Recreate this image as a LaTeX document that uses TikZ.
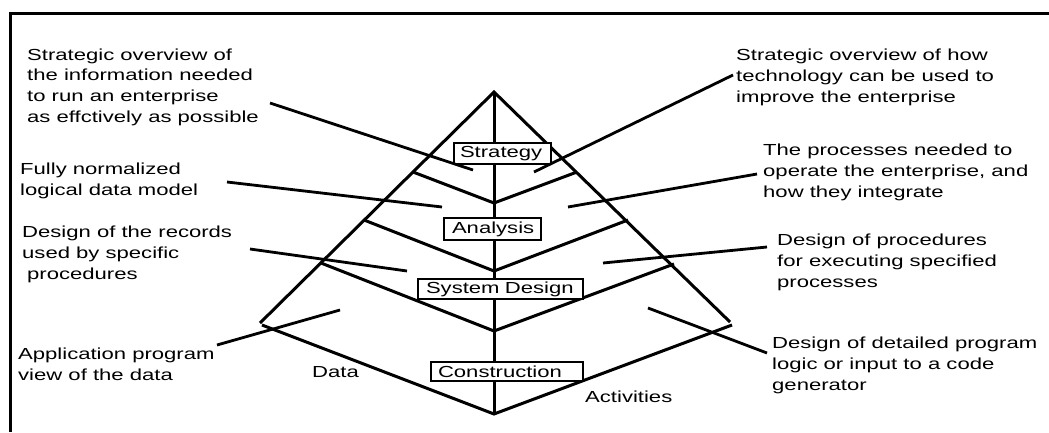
\documentclass[tikz,border=0pt]{standalone}
\usepackage{fontspec}
\setmainfont[FakeStretch=1.38]{Liberation Sans}
\begin{document}
\begin{tikzpicture}[x=1pt,y=-1pt,
  every node/.style={inner sep=0pt, font=\fontsize{16}{20.6}\selectfont},
  frame/.style={line width=3pt},
  edge/.style={line width=3pt},
  lead/.style={line width=2.8pt},
  note/.style={anchor=base west, align=left},
  level/.style={draw, fill=white, line width=2pt, anchor=north west, align=left}]
\useasboundingbox (0,0) rectangle (1049,432);

% outer frame (top and left edges only)
\draw[frame] (9,13) -- (1049,13);
\draw[frame] (10,13) -- (10,432);

% pyramid outline and spine
\coordinate (apex) at (494,92);
\coordinate (bl) at (260,323);
\coordinate (br) at (730,322);
\coordinate (bot) at (494,414);
\draw[edge] (bl) -- (apex) -- (br);
\draw[edge] (apex) -- (bot);

% chevrons separating the levels
\coordinate (sl1) at (413,172); \coordinate (sv1) at (494,203); \coordinate (sr1) at (577,172);
\coordinate (sl2) at (364,220); \coordinate (sv2) at (494,271); \coordinate (sr2) at (628,220);
\coordinate (sl3) at (321,263); \coordinate (sv3) at (494,331); \coordinate (sr3) at (674,264);
\coordinate (cl) at (262,325); \coordinate (cr) at (732,325);
\draw[edge] (sl1) -- (sv1) -- (sr1);
\draw[edge] (sl2) -- (sv2) -- (sr2);
\draw[edge] (sl3) -- (sv3) -- (sr3);
\draw[edge] (cl) -- (bot) -- (cr);

% level labels
\node[level, minimum height=21pt, inner xsep=6pt, text width=85pt] (strategy) at (453,142) {Strategy};
\node[level, minimum height=22pt, inner xsep=8pt, text width=81pt] (analysis) at (443,217) {Analysis};
\node[level, minimum height=20pt, inner xsep=8pt, text width=149pt] (sysdesign) at (417,278) {System Design};
\node[level, minimum height=19pt, inner xsep=7pt, text width=138pt] (construction) at (430,361) {Construction};

% descriptions (anchored at the baseline of their last line)
\node[note] (n1) at (27,122) {Strategic overview of\\the information needed\\to run an enterprise\\as effctively as possible};
\node[note] (n2) at (20,195) {Fully normalized\\logical data model};
\node[note] (n3) at (22,279) {Design of the records\\used by specific\\\hspace*{5pt}procedures};
\node[note] (n4) at (18,380) {Application program\\view of the data};
\node[note] (n5) at (736,102) {Strategic overview of how\\technology can be used to\\improve the enterprise};
\node[note] (n6) at (763,197) {The processes needed to\\operate the enterprise, and\\how they integrate};
\node[note] (n7) at (777,287) {Design of procedures\\for executing specified\\processes};
\node[note] (n8) at (772,390) {Design of detailed program\\logic or input to a code\\generator};
\node[note] (data) at (312,377) {Data};
\node[note] (activities) at (585,402) {Activities};

% leader lines from descriptions into the pyramid
\coordinate (a1) at (270,103); \coordinate (b1) at (473,170);
\coordinate (a2) at (733,75);  \coordinate (b2) at (534,172);
\coordinate (a3) at (227,182); \coordinate (b3) at (442,207);
\coordinate (a4) at (757,174); \coordinate (b4) at (568,207);
\coordinate (a5) at (250,249); \coordinate (b5) at (407,271);
\coordinate (a6) at (767,247); \coordinate (b6) at (603,263);
\coordinate (a7) at (217,345); \coordinate (b7) at (340,310);
\coordinate (a8) at (767,353); \coordinate (b8) at (648,308);
\foreach \i in {1,...,8} \draw[lead] (a\i) -- (b\i);
\end{tikzpicture}
\end{document}
